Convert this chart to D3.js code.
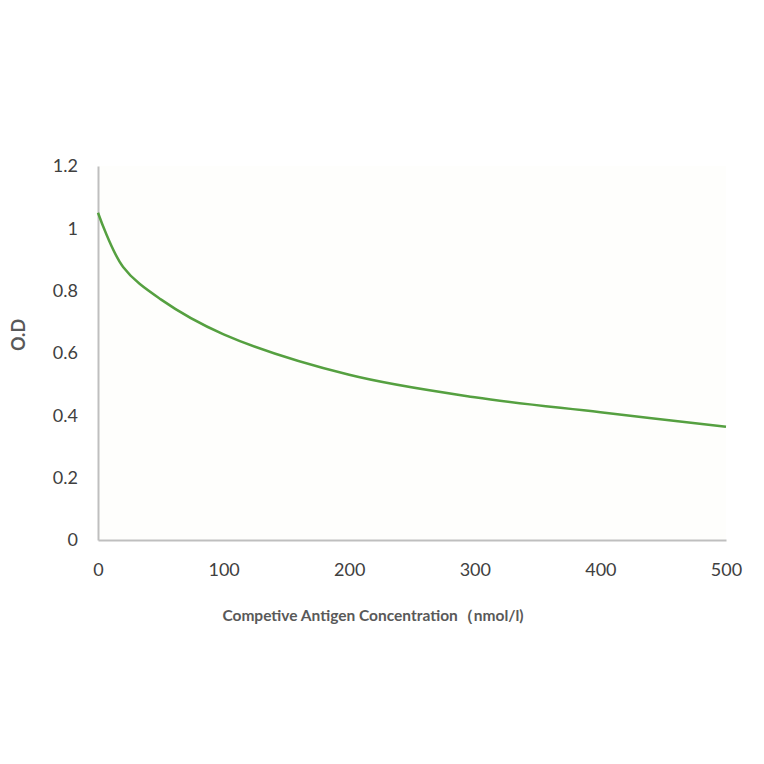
<!DOCTYPE html>
<html>
<head>
<meta charset="utf-8">
<script src="https://cdn.jsdelivr.net/npm/d3@7"></script>
<style>
  body { margin: 0; background: #fff; }
  text { font-family: Lato, "Open Sans", sans-serif; }
</style>
</head>
<body>
<div id="chart"></div>
<script>
// concentration (nmol/l) and optical density
var conc = [0, 20, 50, 100, 200, 300, 400, 500];
var od = [1.05, 0.876, 0.772, 0.66, 0.53, 0.458, 0.41, 0.363];
var xTicks = [0, 100, 200, 300, 400, 500];
var yTicks = [0, 0.2, 0.4, 0.6, 0.8, 1, 1.2];

var margin = {top: 166, right: 38, bottom: 224, left: 98},
    width = 764 - margin.left - margin.right,
    height = 764 - margin.top - margin.bottom;

var svg = d3.select('#chart').append('svg')
  .attr('width', 764)
  .attr('height', 764);

var g = svg.append('g')
  .attr('transform', 'translate(' + margin.left + ',' + margin.top + ')');

var x = d3.scaleLinear().domain([0, 500]).range([0, width]),
    y = d3.scaleLinear().domain([0, 1.2]).range([height, 0]);

// plot background
g.append('rect')
  .attr('width', width)
  .attr('height', height)
  .attr('fill', '#fefefc');

// axes
var xAxis = g.append('g')
  .attr('transform', 'translate(0,' + height + ')')
  .call(d3.axisBottom(x).tickValues(xTicks).tickSize(0).tickPadding(23));

var yAxis = g.append('g')
  .call(d3.axisLeft(y).tickValues(yTicks).tickSize(0).tickPadding(20)
    .tickFormat(function(d) { return d3.format('')(+d.toFixed(1)); }));

[xAxis, yAxis].forEach(function(a) {
  a.select('.domain').attr('stroke', '#bfbfbf').attr('stroke-width', 2);
  a.selectAll('text')
    .attr('fill', '#404040')
    .style('font-size', '18px');
});

// curve
var line = d3.line()
  .x(function(d, i) { return x(conc[i]); })
  .y(function(d) { return y(d); })
  .curve(d3.curveCatmullRom.alpha(0.5));

g.append('path')
  .datum(od)
  .attr('d', line)
  .attr('fill', 'none')
  .attr('stroke', '#55a040')
  .attr('stroke-width', 2.5);

// labels
svg.append('text')
  .attr('transform', 'translate(25,335) rotate(-90)')
  .attr('text-anchor', 'middle')
  .attr('fill', '#595959')
  .style('font-size', '18px')
  .style('font-weight', 'bold')
  .text('O.D');

svg.append('text')
  .attr('x', 373)
  .attr('y', 621)
  .attr('text-anchor', 'middle')
  .attr('fill', '#595959')
  .style('font-size', '15.5px')
  .style('font-weight', 'bold')
  .text('Competive Antigen Concentration（nmol/l)');
</script>
</body>
</html>
